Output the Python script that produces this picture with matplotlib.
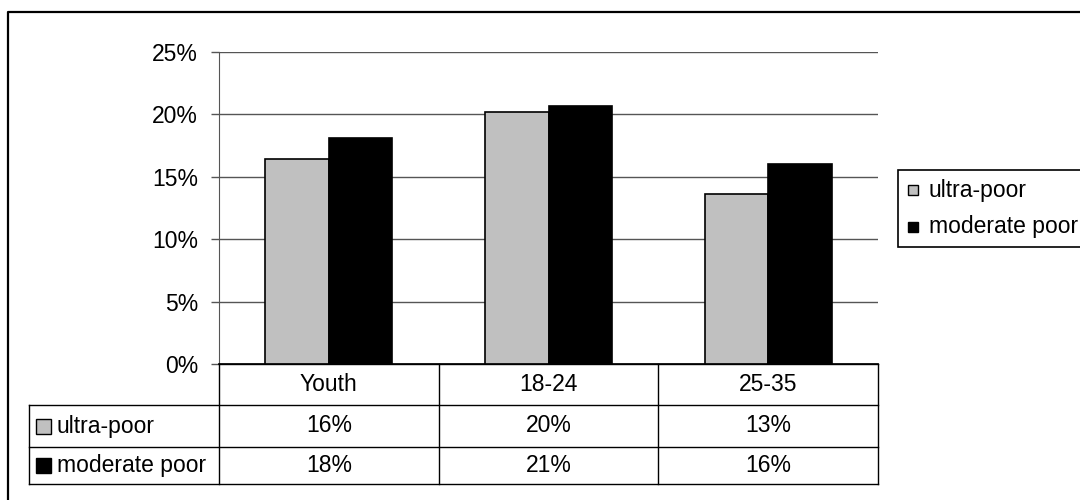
import numpy as np
import matplotlib
matplotlib.use("Agg")
import matplotlib.pyplot as plt
from matplotlib.patches import Rectangle

plt.rcParams['font.family'] = ['Liberation Sans', 'DejaVu Sans']

# --- data ---
categories = ["Youth", "18-24", "25-35"]
series_names = ["ultra-poor", "moderate poor"]
ultra_poor = [16.4, 20.2, 13.6]
moderate_poor = [18.1, 20.7, 16.0]
table_labels = [["16%", "20%", "13%"],
                ["18%", "21%", "16%"]]
y_ticks = [0, 5, 10, 15, 20, 25]
colors = ["#c0c0c0", "#000000"]

W, H = 1080, 500
FS = 16.5
GRID = "#555555"

fig = plt.figure(figsize=(W / 100, H / 100), dpi=100)

# plot area in pixels
px_l, px_r, px_t, px_b = 219, 878, 52, 364
ax = fig.add_axes([px_l / W, 1 - px_b / H, (px_r - px_l) / W, (px_b - px_t) / H])

x = np.arange(len(categories))
bw = 0.289
ax.bar(x - bw / 2, ultra_poor, bw, color=colors[0], edgecolor="black", linewidth=1.2, zorder=3)
ax.bar(x + bw / 2, moderate_poor, bw, color=colors[1], edgecolor="black", linewidth=1.2, zorder=3)

ax.set_xlim(-0.5, len(categories) - 0.5)
ax.set_ylim(0, 25)
ax.set_yticks(y_ticks)
ax.set_yticklabels([f"{v}%" for v in y_ticks], fontsize=FS)
ax.set_xticks([])
ax.tick_params(axis="y", length=6, width=1, color=GRID, pad=9)
ax.yaxis.grid(True, color=GRID, linewidth=1, zorder=0)
for s in ["top", "right"]:
    ax.spines[s].set_visible(False)
ax.spines["left"].set_color(GRID)
ax.spines["bottom"].set_color("black")
ax.spines["bottom"].set_linewidth(1.2)

# overlay in pixel coordinates for frame, data table and legend
ov = fig.add_axes([0, 0, 1, 1], zorder=5)
ov.set_xlim(0, W)
ov.set_ylim(H, 0)
ov.axis("off")
ov.patch.set_alpha(0)

# outer chart frame
ov.plot([8, 8, W + 5], [H + 5, 12, 12], color="black", linewidth=1.6)

# data table
col_edges = [px_l + i * (px_r - px_l) / len(categories) for i in range(len(categories) + 1)]
row_edges = [364, 405, 447, 484]
tab_left = 29
lk = dict(color="black", linewidth=1)
ov.plot([px_l, px_r], [row_edges[0], row_edges[0]], **lk)
for yy in row_edges[1:]:
    ov.plot([tab_left, px_r], [yy, yy], **lk)
ov.plot([tab_left, tab_left], [row_edges[1], row_edges[-1]], **lk)
for xx in col_edges:
    ov.plot([xx, xx], [row_edges[0], row_edges[-1]], **lk)

for j, cat in enumerate(categories):
    cx = (col_edges[j] + col_edges[j + 1]) / 2
    ov.text(cx, (row_edges[0] + row_edges[1]) / 2, cat, ha="center", va="center", fontsize=FS)
    for i in range(len(series_names)):
        ov.text(cx, (row_edges[i + 1] + row_edges[i + 2]) / 2, table_labels[i][j],
                ha="center", va="center", fontsize=FS)

for i, name in enumerate(series_names):
    cy = (row_edges[i + 1] + row_edges[i + 2]) / 2
    ov.add_patch(Rectangle((36, cy - 7.5), 15, 15, facecolor=colors[i], edgecolor="black", linewidth=1))
    ov.text(57, cy, name, ha="left", va="center", fontsize=FS)

# legend box
ov.add_patch(Rectangle((898, 170), 200, 77, facecolor="white", edgecolor="black", linewidth=1.2))
for i, name in enumerate(series_names):
    cy = [190, 227][i]
    ov.add_patch(Rectangle((908, cy - 5), 9.5, 10, facecolor=colors[i], edgecolor="black", linewidth=1))
    ov.text(929, cy, name, ha="left", va="center", fontsize=FS)

fig.savefig("out.png", dpi=100)
